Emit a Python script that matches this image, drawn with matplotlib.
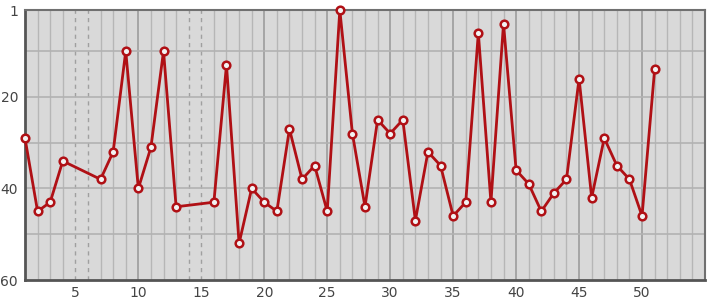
import matplotlib
matplotlib.use('Agg')
import matplotlib.pyplot as plt

# positions and ranks (x=5,6,14,15 have no value)
xs = [1, 2, 3, 4, 7, 8, 9, 10, 11, 12, 13, 16, 17, 18, 19, 20, 21, 22, 23,
      24, 25, 26, 27, 28, 29, 30, 31, 32, 33, 34, 35, 36, 37, 38, 39, 40, 41,
      42, 43, 44, 45, 46, 47, 48, 49, 50, 51]
ranks = [29, 45, 43, 34, 38, 32, 10, 40, 31, 10, 44, 43, 13, 52, 40, 43, 45,
         27, 38, 35, 45, 1, 28, 44, 25, 28, 25, 47, 32, 35, 46, 43, 6, 43, 4,
         36, 39, 45, 41, 38, 16, 42, 29, 35, 38, 46, 14]
x_ticks = [5, 10, 15, 20, 25, 30, 35, 40, 45, 50]
y_ticks = [1, 20, 40, 60]
y_grid = [10, 20, 30, 40, 50]
x_min, x_max = 1, 55


def main():
    fig = plt.figure(figsize=(7.15, 3.0), dpi=100)
    ax = fig.add_axes([25 / 715, 20 / 300, 680 / 715, 270 / 300])
    ax.set_facecolor('#d9d9d9')

    missing = [x for x in range(x_min, max(xs) + 1) if x not in xs]

    # vertical grid at every integer
    for x in range(x_min + 1, x_max):
        if x in missing:
            ax.axvline(x, color='#a0a0a0', lw=1, ls=(0, (3, 3)), zorder=1)
        elif x % 5 == 0:
            ax.axvline(x, color='#9c9c9c', lw=1.2, zorder=1)
        else:
            ax.axvline(x, color='#b6b6b6', lw=1, zorder=1)
    for y in y_grid:
        ax.axhline(y, color='#b2b2b2', lw=1.2, zorder=1)

    ax.plot(xs, ranks, color='#b01015', lw=2, marker='o', ms=5.5,
            mfc='#f2f2f2', mec='#b01015', mew=1.8, zorder=3, clip_on=False)

    ax.set_xlim(x_min, x_max)
    ax.set_ylim(60, 1)
    ax.set_xticks(x_ticks)
    ax.set_yticks(y_ticks)
    ax.tick_params(length=0, labelsize=10, labelcolor='#444444', pad=4)
    ax.tick_params(axis='y', pad=5)

    for side in ax.spines.values():
        side.set_color('#707070')
        side.set_linewidth(1.5)
    ax.spines['left'].set_color('#555555')
    ax.spines['left'].set_linewidth(2)
    ax.spines['bottom'].set_color('#555555')
    ax.spines['bottom'].set_linewidth(2)

    fig.savefig('out.png', dpi=100)


if __name__ == '__main__':
    main()
